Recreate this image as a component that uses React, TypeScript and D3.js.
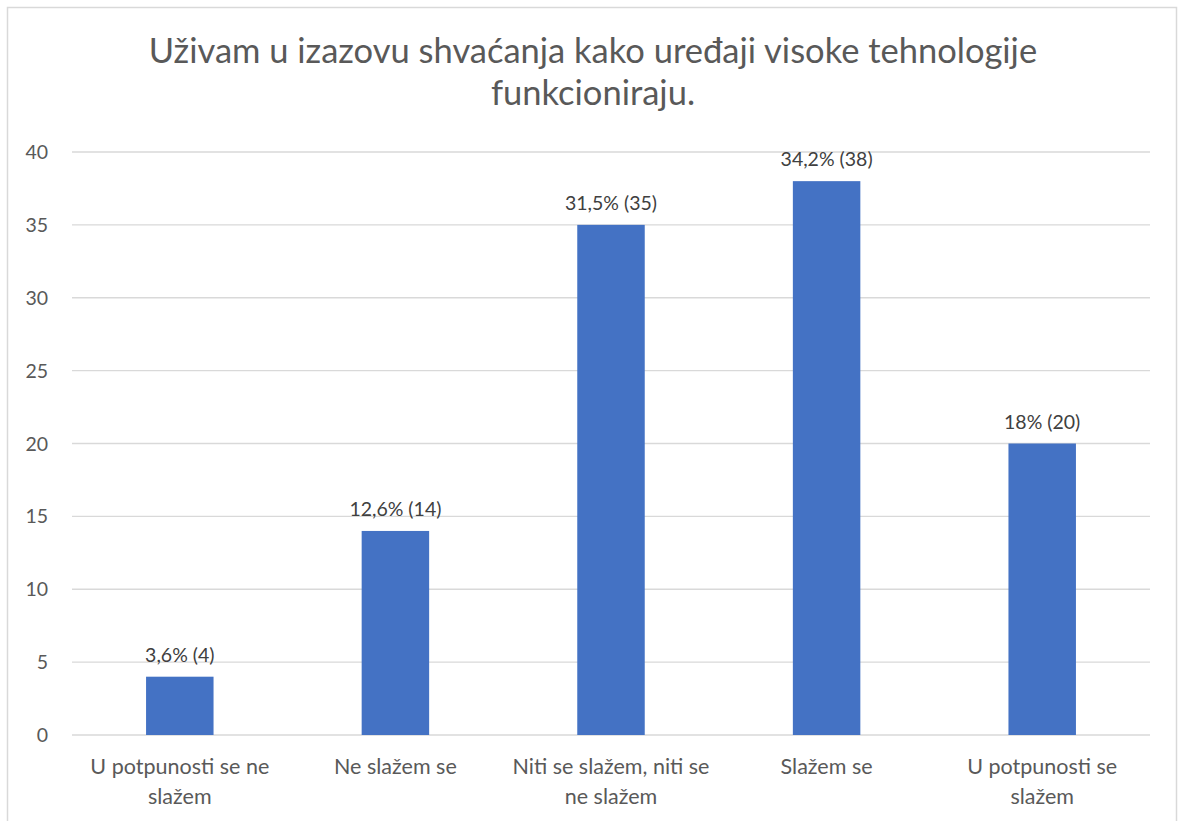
import React, { useEffect, useRef } from 'react';
import * as d3 from 'd3';

const title = ['Uživam u izazovu shvaćanja kako uređaji visoke tehnologije', 'funkcioniraju.'];
const categories = [
  'U potpunosti se ne slažem',
  'Ne slažem se',
  'Niti se slažem, niti se ne slažem',
  'Slažem se',
  'U potpunosti se slažem',
];
const counts = [4, 14, 35, 38, 20];
const percents = ['3,6%', '12,6%', '31,5%', '34,2%', '18%'];
const yTicks = [0, 5, 10, 15, 20, 25, 30, 35, 40];

const W = 1181;
const H = 821;
const FONT = 'Lato, "Open Sans", sans-serif';
const TEXT = '#595959';

export default function App() {
  const svgRef = useRef<SVGSVGElement>(null);

  useEffect(() => {
    if (!svgRef.current) return;
    const svg = d3.select(svgRef.current);
    svg.selectAll('*').remove();

    const left = 72, right = 1150, top = 152, bottom = 735;

    svg.append('rect')
      .attr('x', 7.5).attr('y', 7.5)
      .attr('width', 1169).attr('height', 830)
      .attr('fill', 'white')
      .attr('stroke', '#d9d9d9')
      .attr('stroke-width', 1.5);

    // title
    const t = svg.append('text')
      .attr('text-anchor', 'middle')
      .attr('font-family', FONT)
      .attr('font-size', 34.5)
      .attr('fill', TEXT);
    title.forEach((line, i) => {
      t.append('tspan').attr('x', 593).attr('y', 63 + i * 42).text(line);
    });

    const x = d3.scaleBand<string>()
      .domain(categories)
      .range([left, right])
      .paddingInner(0.687)
      .paddingOuter(0.3435);

    const y = d3.scaleLinear().domain([0, 40]).range([bottom, top]);

    // gridlines
    svg.append('g')
      .selectAll('line')
      .data(yTicks)
      .join('line')
      .attr('x1', left).attr('x2', right)
      .attr('y1', d => y(d)).attr('y2', d => y(d))
      .attr('stroke', '#d9d9d9')
      .attr('stroke-width', 1.3);

    // y labels
    svg.append('g')
      .selectAll('text')
      .data(yTicks)
      .join('text')
      .attr('x', 48)
      .attr('y', d => y(d) + 7)
      .attr('text-anchor', 'end')
      .attr('font-family', FONT)
      .attr('font-size', 19.5)
      .attr('fill', TEXT)
      .text(d => d);

    // bars
    svg.append('g')
      .selectAll('rect')
      .data(counts)
      .join('rect')
      .attr('x', (d, i) => x(categories[i])!)
      .attr('y', d => y(d))
      .attr('width', x.bandwidth())
      .attr('height', d => y(0) - y(d))
      .attr('fill', '#4472C4');

    // value labels
    svg.append('g')
      .selectAll('text')
      .data(counts)
      .join('text')
      .attr('x', (d, i) => x(categories[i])! + x.bandwidth() / 2)
      .attr('y', d => y(d) - 15)
      .attr('text-anchor', 'middle')
      .attr('font-family', FONT)
      .attr('font-size', 19.5)
      .attr('fill', '#404040')
      .text((d, i) => `${percents[i]} (${d})`);

    // category labels, wrapped
    const maxW = 205;
    categories.forEach(c => {
      const cx = x(c)! + x.bandwidth() / 2;
      const el = svg.append('text')
        .attr('text-anchor', 'middle')
        .attr('font-family', FONT)
        .attr('font-size', 21.5)
        .attr('fill', TEXT);
      const words = c.split(' ');
      let line: string[] = [];
      let row = 0;
      let tspan = el.append('tspan').attr('x', cx).attr('y', 774);
      words.forEach(w => {
        line.push(w);
        tspan.text(line.join(' '));
        if ((tspan.node() as SVGTSpanElement).getComputedTextLength() > maxW && line.length > 1) {
          line.pop();
          tspan.text(line.join(' '));
          line = [w];
          row++;
          tspan = el.append('tspan').attr('x', cx).attr('y', 774 + row * 30).text(w);
        }
      });
    });
  }, []);

  return (
    <svg
      ref={svgRef}
      width={W}
      height={H}
      style={{ position: 'absolute', left: 0, top: 0, background: 'white' }}
    />
  );
}
